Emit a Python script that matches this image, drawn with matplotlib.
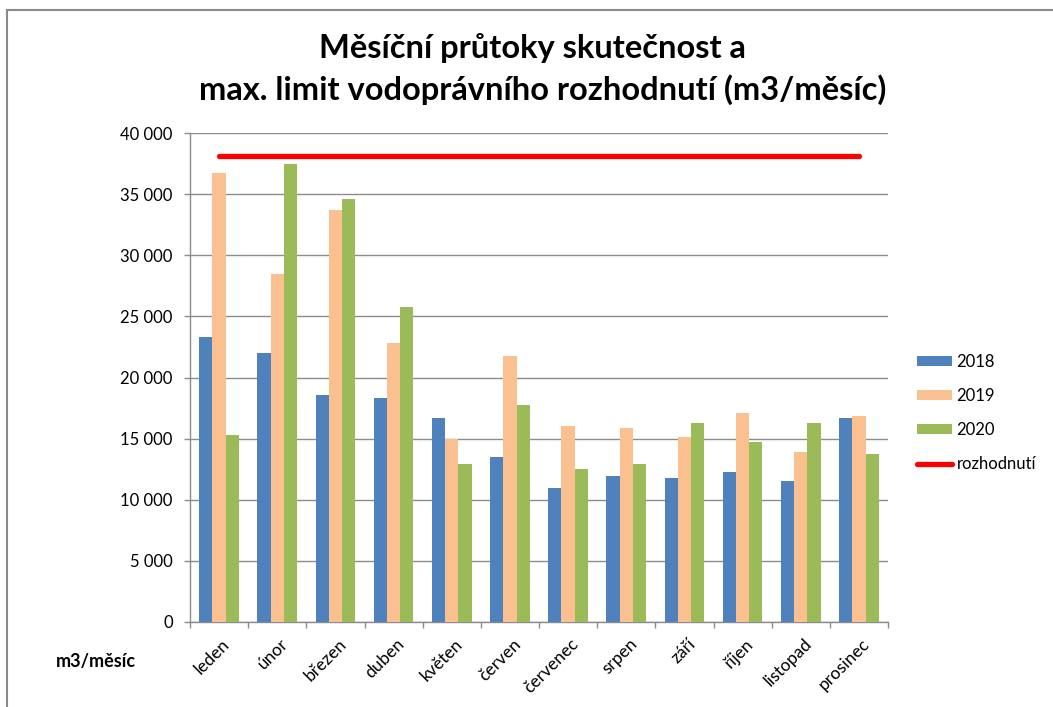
import matplotlib
matplotlib.use('Agg')
import matplotlib.pyplot as plt
import numpy as np
from matplotlib.ticker import FuncFormatter, FixedLocator
from matplotlib.patches import Rectangle

# měsíční průtoky (m3/měsíc)
mesice = ['leden', 'únor', 'březen', 'duben', 'květen', 'červen',
          'červenec', 'srpen', 'září', 'říjen', 'listopad', 'prosinec']
r2018 = [23300, 22000, 18600, 18300, 16700, 13500, 11000, 11950, 11800, 12300, 11500, 16700]
r2019 = [36700, 28500, 33700, 22800, 15000, 21750, 16000, 15900, 15100, 17100, 13900, 16850]
r2020 = [15300, 37500, 34600, 25800, 12900, 17750, 12500, 12900, 16300, 14700, 16300, 13750]
rozhodnuti = [38100] * 12

plt.rcParams['font.family'] = ['Lato', 'DejaVu Sans']

fig = plt.figure(figsize=(10.53, 7.07), dpi=100)
ax = fig.add_axes([190 / 1053, 85 / 707, 698 / 1053, 489 / 707])

# rámeček grafu
fig.patches.append(Rectangle((7 / 1053, -0.01), 1.1, (707 - 10) / 707 + 0.01,
                             transform=fig.transFigure, fill=False,
                             edgecolor='#8a8a8a', linewidth=1.5))

x = np.arange(len(mesice))
w = 0.228
b1 = ax.bar(x - w, r2018, w, color='#4f81bd', label='2018', zorder=3)
b2 = ax.bar(x, r2019, w, color='#fac090', label='2019', zorder=3)
b3 = ax.bar(x + w, r2020, w, color='#9bbb59', label='2020', zorder=3)
ln, = ax.plot(x, rozhodnuti, color='#ff0000', linewidth=3.8, solid_capstyle='round',
              label='rozhodnutí', zorder=4)

ax.set_xlim(-0.5, len(mesice) - 0.5)
ax.set_ylim(0, 40000)
ax.set_yticks(np.arange(0, 40001, 5000))
ax.yaxis.set_major_formatter(FuncFormatter(lambda v, p: f'{int(v):,}'.replace(',', ' ')))
ax.yaxis.grid(True, color='#8c8c8c', linewidth=1)
ax.set_axisbelow(True)

# popisky měsíců pod osou, čárky mezi kategoriemi
ax.xaxis.set_major_locator(FixedLocator(np.arange(-0.5, len(mesice), 1)))
ax.set_xticklabels([])
for i, m in enumerate(mesice):
    ax.annotate(m, xy=(i, 0), xycoords=('data', 'axes fraction'),
                xytext=(6, -14), textcoords='offset points',
                rotation=45, rotation_mode='anchor', ha='right', va='center',
                fontsize=12.5, color='#000000')

for s in ['top', 'right']:
    ax.spines[s].set_visible(False)
for s in ['left', 'bottom']:
    ax.spines[s].set_color('#8c8c8c')
    ax.spines[s].set_linewidth(1)
ax.tick_params(axis='both', color='#8c8c8c', length=4.5, width=1, direction='out')
ax.tick_params(axis='y', labelsize=12, pad=8)

fig.text(0.506, 0.932, 'Měsíční průtoky skutečnost a', ha='center', va='center',
         fontsize=23.5, fontweight='bold')
fig.text(0.515, 0.873, 'max. limit vodoprávního rozhodnutí (m3/měsíc)', ha='center',
         va='center', fontsize=23.5, fontweight='bold')
fig.text(0.053, 0.064, 'm3/měsíc', ha='left', va='center', fontsize=13,
         fontweight='bold')

leg = ax.legend([b1, b2, b3, ln], ['2018', '2019', '2020', 'rozhodnutí'],
                loc='upper left', bbox_to_anchor=(1.041, 0.548), frameon=False,
                fontsize=12, handlelength=2.15, handleheight=0.55,
                labelspacing=1.08, handletextpad=0.25, borderaxespad=0,
                borderpad=0)

fig.savefig('out.png', dpi=100)
